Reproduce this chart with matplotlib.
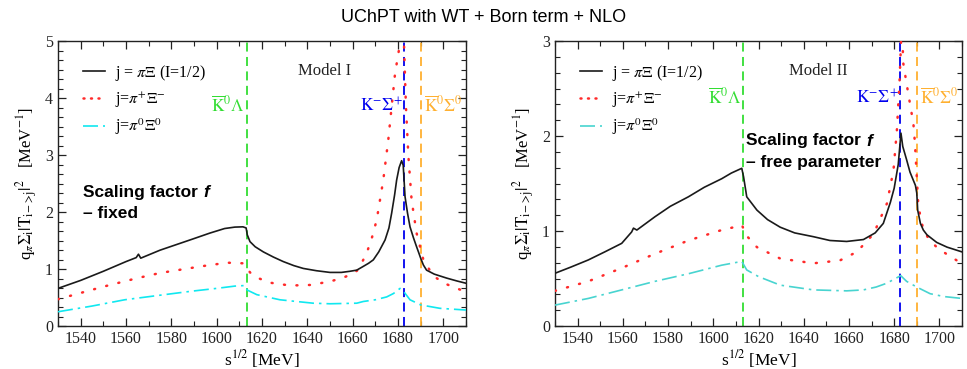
import matplotlib
matplotlib.use("Agg")
import matplotlib.pyplot as plt
from matplotlib.ticker import MultipleLocator
from matplotlib.lines import Line2D

# ---------------- data ----------------
# Model I (left panel)
m1_black_x = [1530, 1540, 1550, 1560, 1564.5, 1565.5, 1566.5, 1575, 1589, 1597, 1603.5, 1608, 1611.6,
              1613.0, 1613.5, 1614.7, 1617, 1620.6, 1625, 1629.4, 1634, 1638.2, 1644, 1650, 1655, 1658.8,
              1661.8, 1664, 1667, 1669.1, 1671.5, 1674.3, 1676, 1677.2, 1678.5, 1679.4, 1680.5, 1681.6,
              1682.3, 1683.1, 1684.2, 1685.3, 1686.8, 1688.2, 1689.2, 1690, 1691.2, 1692.6, 1696, 1701.5,
              1706, 1710]
m1_black_y = [0.66, 0.80, 0.96, 1.13, 1.20, 1.26, 1.19, 1.33, 1.52, 1.63, 1.71, 1.735, 1.74,
              1.72, 1.60, 1.48, 1.39, 1.30, 1.21, 1.13, 1.06, 1.01, 0.97, 0.94, 0.94, 0.96,
              0.98, 1.03, 1.10, 1.16, 1.30, 1.51, 1.72, 1.98, 2.30, 2.56, 2.78, 2.90,
              2.82, 2.27, 1.98, 1.74, 1.55, 1.39, 1.28, 1.19, 1.07, 0.98, 0.91, 0.84,
              0.79, 0.75]
m1_red_x = [1530, 1540, 1550, 1560, 1565, 1575, 1589, 1597, 1605, 1611.6, 1613.1, 1614.7, 1617.7,
            1623.5, 1632.4, 1641.2, 1650, 1655.9, 1660.3, 1662.5, 1666.2, 1668.5, 1670.6, 1673.5,
            1675.7, 1677.2, 1678.7, 1680.9, 1681.8, 1682.6, 1683.5, 1684.6, 1686.0, 1688.2, 1691.2,
            1694, 1697, 1701, 1705.9, 1710]
m1_red_y = [0.47, 0.58, 0.69, 0.79, 0.84, 0.93, 1.02, 1.07, 1.11, 1.10, 1.04, 0.94, 0.85,
            0.76, 0.71, 0.72, 0.78, 0.85, 0.92, 0.99, 1.28, 1.55, 1.86, 2.56,
            3.26, 3.85, 4.43, 4.96, 5.4, 5.0, 3.85, 2.97, 2.21, 1.63, 1.16,
            0.98, 0.84, 0.74, 0.66, 0.60]
m1_cyan_x = [1530, 1545, 1559.4, 1575, 1588.8, 1600, 1608, 1612.5, 1613.5, 1617.7, 1627.9, 1642.6,
             1650, 1661.8, 1664.7, 1670, 1675, 1678, 1680.9, 1682.6, 1685.3, 1690, 1698.5, 1710]
m1_cyan_y = [0.25, 0.35, 0.46, 0.54, 0.61, 0.66, 0.70, 0.71, 0.63, 0.55, 0.46, 0.40,
             0.39, 0.40, 0.43, 0.46, 0.51, 0.57, 0.66, 0.60, 0.46, 0.37, 0.31, 0.28]

# Model II (right panel)
m2_black_x = [1530, 1537, 1544.7, 1552, 1559.5, 1563.9, 1564.7, 1566.2, 1574.2, 1581, 1589, 1596,
              1603.7, 1608, 1612.6, 1613.4, 1614.8, 1619.3, 1624, 1629.6, 1636, 1644.3, 1651.6, 1659,
              1666.4, 1671.6, 1675.2, 1678.3, 1680, 1681.8, 1683.0, 1683.8, 1685.5, 1687, 1689.4,
              1690.0, 1690.4, 1691.6, 1692.9, 1694.5, 1698.8, 1703.4, 1710]
m2_black_y = [0.555, 0.62, 0.695, 0.78, 0.87, 0.99, 1.03, 1.01, 1.15, 1.26, 1.36, 1.46,
              1.55, 1.61, 1.66, 1.57, 1.36, 1.22, 1.12, 1.04, 0.98, 0.94, 0.90, 0.89,
              0.91, 0.98, 1.08, 1.30, 1.45, 1.70, 2.03, 1.89, 1.75, 1.62, 1.48,
              1.40, 1.22, 1.08, 1.01, 0.96, 0.88, 0.83, 0.78]
m2_red_x = [1530, 1544.7, 1559.5, 1574.2, 1589, 1603.7, 1611, 1612.8, 1614, 1619.3, 1629.6, 1644.3,
            1656, 1663.5, 1670.9, 1676.8, 1679.7, 1681.2, 1682.4, 1683.0, 1683.4, 1684.0, 1685.5,
            1687, 1688.5, 1689.2, 1690.7, 1692.9, 1695.5, 1698.8, 1703, 1707.7, 1710]
m2_red_y = [0.37, 0.47, 0.61, 0.76, 0.90, 1.01, 1.05, 1.06, 0.97, 0.83, 0.71, 0.66,
            0.69, 0.78, 0.97, 1.29, 1.64, 2.06, 2.59, 2.97, 3.2, 2.77, 2.55,
            2.34, 2.13, 1.92, 1.26, 1.01, 0.91, 0.83, 0.76, 0.69, 0.67]
m2_cyan_x = [1530, 1544.7, 1559.5, 1574.2, 1589, 1603.7, 1612.6, 1614.8, 1620, 1629.6, 1644.3, 1659,
             1666.4, 1672, 1676.7, 1682.9, 1685.5, 1690, 1695.9, 1702, 1710]
m2_cyan_y = [0.22, 0.29, 0.38, 0.47, 0.55, 0.64, 0.68, 0.59, 0.52, 0.43, 0.38, 0.37,
             0.38, 0.41, 0.45, 0.53, 0.47, 0.41, 0.34, 0.31, 0.29]

# thresholds [MeV]
thr_KbarLambda = 1613.3
thr_KmSigmap = 1682.8
thr_KbarSigma0 = 1690.1

legend_labels = [r"j = $\pi\Xi$ (I=1/2)", r"j=$\pi^{+}\Xi^{-}$", r"j=$\pi^{0}\Xi^{0}$"]

# ---------------- style ----------------
plt.rcParams["font.family"] = ["Liberation Serif", "DejaVu Serif"]
plt.rcParams["mathtext.fontset"] = "stix"

SERIF = 11.5
fig = plt.figure(figsize=(9.67, 3.69), dpi=100)
fig.text(0.5, 0.953, "UChPT with WT + Born term + NLO", ha="center", va="center",
         fontsize=13, family=["Liberation Sans", "DejaVu Sans"])

ax1 = fig.add_axes([58 / 967, 1 - 326 / 369, 408 / 967, 285 / 369])
ax2 = fig.add_axes([555 / 967, 1 - 326 / 369, 407 / 967, 285 / 369])

BLACK = "#1a1a1a"
RED = "#ff2a2a"
RED_LW = 1.8
RED_LS = (0, (0.4, 4.6))


def setup(ax, ymax, ylabpad):
    ax.set_xlim(1530, 1710)
    ax.set_ylim(0, ymax)
    ax.xaxis.set_major_locator(MultipleLocator(20))
    ax.xaxis.set_minor_locator(MultipleLocator(10))
    ax.yaxis.set_major_locator(MultipleLocator(1))
    ax.yaxis.set_minor_locator(MultipleLocator(1 / 6))
    ax.tick_params(which="both", direction="in", top=True, right=True, labelsize=SERIF,
                   colors="#222222")
    ax.tick_params(which="major", length=6, width=0.9)
    ax.tick_params(which="minor", length=3.5, width=0.8)
    for s in ax.spines.values():
        s.set_linewidth(1.0)
        s.set_color("#222222")
    ax.set_xlabel(r"s$^{1/2}$ [MeV]", fontsize=SERIF + 1, labelpad=1)
    ax.set_ylabel(r"q$_{\pi}\Sigma_{\rm i}|{\rm T}_{\rm i\!-\!>\!j}|^{2}$   [MeV$^{-1}$]",
                  fontsize=SERIF + 0.5, labelpad=ylabpad)


def draw(ax, bx, by, rx, ry, cx, cy, cyan_col, labels):
    ax.plot(bx, by, color=BLACK, lw=1.2, zorder=4)
    ax.plot(rx, ry, color=RED, lw=RED_LW, linestyle=RED_LS, dash_capstyle="round", zorder=3)
    ax.plot(cx, cy, color=cyan_col, lw=1.2, linestyle=(0, (9, 3, 1.5, 3)), zorder=3)
    ax.axvline(thr_KbarLambda, color="#33dd33", lw=1.3, ls=(0, (5, 3)), zorder=2)
    ax.axvline(thr_KmSigmap, color="#0000ee", lw=1.3, ls=(0, (5, 3)), zorder=2)
    ax.axvline(thr_KbarSigma0, color="#ffb030", lw=1.3, ls=(0, (5, 3)), zorder=2)
    handles = [Line2D([], [], color=BLACK, lw=1.2),
               Line2D([], [], color=RED, lw=RED_LW, linestyle=(0, (0.4, 2.6)), dash_capstyle="round"),
               Line2D([], [], color=cyan_col, lw=1.2, linestyle=(0, (9, 3, 1.5, 3)))]
    ax.legend(handles, labels, loc="upper left", bbox_to_anchor=(0.045, 0.945), frameon=False,
              fontsize=SERIF, handlelength=1.4, handletextpad=0.6, labelspacing=0.45,
              borderaxespad=0)


setup(ax1, 5, 4)
setup(ax2, 3, 4)
draw(ax1, m1_black_x, m1_black_y, m1_red_x, m1_red_y, m1_cyan_x, m1_cyan_y, "#10e8f0", legend_labels)
draw(ax2, m2_black_x, m2_black_y, m2_red_x, m2_red_y, m2_cyan_x, m2_cyan_y, "#48d4d0", legend_labels)

# panel titles
ax1.text(1647.8, 4.47, "Model I", ha="center", va="center", fontsize=SERIF + 0.5, color="#222222")
ax2.text(1646.3, 2.68, "Model II", ha="center", va="center", fontsize=SERIF + 0.5, color="#222222")

# threshold labels
TL = SERIF + 1
for ax, yl in ((ax1, 3.86), (ax2, 2.40)):
    ax.text(thr_KbarLambda - 0.8, yl, r"$\overline{\rm K}^{0}\Lambda$", ha="right", va="center",
            color="#33dd33", fontsize=TL)
    ax.text(thr_KmSigmap - 0.8, yl, r"${\rm K}^{-}\Sigma^{+}$", ha="right", va="center",
            color="#0000ee", fontsize=TL)
    ax.text(thr_KbarSigma0 + 1.2, yl, r"$\overline{\rm K}^{0}\Sigma^{0}$", ha="left", va="center",
            color="#ffb030", fontsize=TL)

# annotations
SANS = ["Liberation Sans", "DejaVu Sans"]


def scaling(ax, x, y, second):
    t = ax.text(x, y, "Scaling factor", ha="left", va="baseline", fontsize=12.5,
                fontweight="bold", family=SANS, zorder=6)
    ax.annotate("f", xy=(1, 0), xycoords=t, xytext=(4, 0), textcoords="offset points",
                ha="left", va="bottom", fontsize=12.5, fontweight="bold", fontstyle="italic",
                family=SANS, zorder=6)
    ax.annotate(second, xy=(0, 0), xycoords=t, xytext=(0, -15.5), textcoords="offset points",
                ha="left", va="bottom", fontsize=12.5, fontweight="bold", family=SANS, zorder=6)


scaling(ax1, 1541, 2.27, "\u2013 fixed")
scaling(ax2, 1614.5, 1.90, "\u2013 free parameter")

fig.savefig("out.png", dpi=100)
